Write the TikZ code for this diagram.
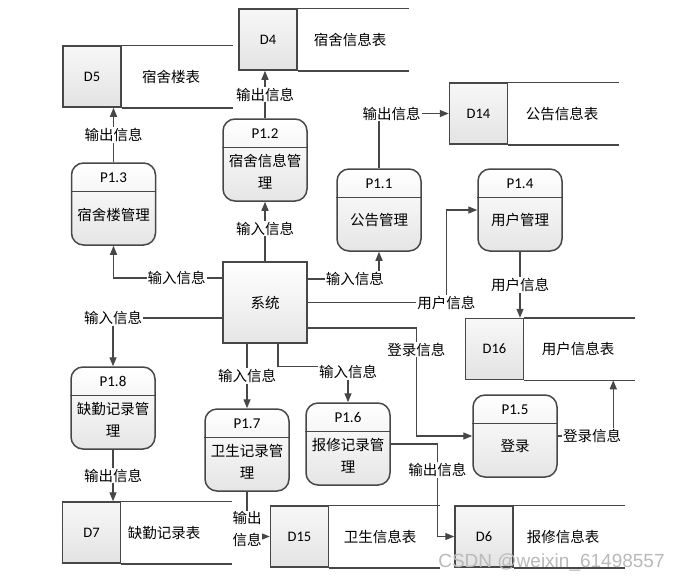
\documentclass[tikz,border=0pt]{standalone}
\usepackage{fontspec}
\setmainfont{Noto Sans CJK SC}
\newfontfamily\idfont{Carlito}
\newfontfamily\wmfont{Liberation Sans}
\usetikzlibrary{arrows.meta}

\definecolor{linegray}{HTML}{474747}

\begin{document}
\begin{tikzpicture}[x=1pt,y=-1pt]
\tikzstyle{every node}=[font=\fontsize{14.5}{22}\selectfont, inner sep=1pt];
\tikzstyle{proc}=[draw=linegray, line width=1.5pt, rounded corners=12pt, minimum width=84pt, minimum height=82pt, top color=white, bottom color=gray!20];
\tikzstyle{sysbox}=[draw=linegray, line width=1.5pt, minimum width=84pt, minimum height=81pt, top color=white, bottom color=gray!20];
\tikzstyle{store}=[draw=linegray, line width=1.5pt, minimum width=58pt, minimum height=61pt, top color=gray!6, bottom color=gray!22, font=\idfont\fontsize{14.5}{17}\selectfont];
\tikzstyle{sline}=[draw=linegray, line width=1.5pt];
\tikzstyle{pid}=[font=\idfont\fontsize{15}{17}\selectfont];
\tikzstyle{ptxt}=[align=center];
\tikzstyle{flow}=[draw=linegray, line width=1.4pt, -{Triangle[length=9pt,width=7pt]}];
\tikzstyle{lab}=[fill=white];
\useasboundingbox (0,0) rectangle (682,579);

\node[sysbox] (sys) at (265,302.5) {系统};

\node[proc] (p13) at (113.5,204) {};
\node[pid] (p13id) at ([yshift=-15.5pt]p13.north) {P1.3};
\draw[sline] ([yshift=-29pt]p13.north west) -- ([yshift=-29pt]p13.north east);
\node[ptxt] (p13txt) at ([yshift=-53pt]p13.north) {宿舍楼管理};

\node[proc] (p12) at (265,160) {};
\node[pid] (p12id) at ([yshift=-15.5pt]p12.north) {P1.2};
\draw[sline] ([yshift=-29pt]p12.north west) -- ([yshift=-29pt]p12.north east);
\node[ptxt] (p12txt) at ([yshift=-53pt]p12.north) {宿舍信息管\\理};

\node[proc] (p11) at (379,210) {};
\node[pid] (p11id) at ([yshift=-15.5pt]p11.north) {P1.1};
\draw[sline] ([yshift=-29pt]p11.north west) -- ([yshift=-29pt]p11.north east);
\node[ptxt] (p11txt) at ([yshift=-52pt]p11.north) {公告管理};

\node[proc] (p14) at (520,210) {};
\node[pid] (p14id) at ([yshift=-15.5pt]p14.north) {P1.4};
\draw[sline] ([yshift=-29pt]p14.north west) -- ([yshift=-29pt]p14.north east);
\node[ptxt] (p14txt) at ([yshift=-52pt]p14.north) {用户管理};

\node[proc] (p18) at (113,408) {};
\node[pid] (p18id) at ([yshift=-15.5pt]p18.north) {P1.8};
\draw[sline] ([yshift=-29pt]p18.north west) -- ([yshift=-29pt]p18.north east);
\node[ptxt] (p18txt) at ([yshift=-53pt]p18.north) {缺勤记录管\\理};

\node[proc] (p17) at (247,450) {};
\node[pid] (p17id) at ([yshift=-15.5pt]p17.north) {P1.7};
\draw[sline] ([yshift=-29pt]p17.north west) -- ([yshift=-29pt]p17.north east);
\node[ptxt] (p17txt) at ([yshift=-53pt]p17.north) {卫生记录管\\理};

\node[proc] (p16) at (348,444) {};
\node[pid] (p16id) at ([yshift=-15.5pt]p16.north) {P1.6};
\draw[sline] ([yshift=-29pt]p16.north west) -- ([yshift=-29pt]p16.north east);
\node[ptxt] (p16txt) at ([yshift=-53pt]p16.north) {报修记录管\\理};

\node[proc] (p15) at (515,436) {};
\node[pid] (p15id) at ([yshift=-15.5pt]p15.north) {P1.5};
\draw[sline] ([yshift=-29pt]p15.north west) -- ([yshift=-29pt]p15.north east);
\node[ptxt] (p15txt) at ([yshift=-52pt]p15.north) {登录};

\node[store] (d5) at (92,76.5) {D5};
\draw[sline] (d5.north east) -- +(111,0) (d5.south east) -- +(111,0);
\node (d5txt) at (171,76.5) {宿舍楼表};

\node[store] (d4) at (268,39.5) {D4};
\draw[sline] (d4.north east) -- +(111,0) (d4.south east) -- +(111,0);
\node (d4txt) at (350,39.5) {宿舍信息表};

\node[store] (d14) at (478.5,113.5) {D14};
\draw[sline] (d14.north east) -- +(111,0) (d14.south east) -- +(111,0);
\node (d14txt) at (562,113.5) {公告信息表};

\node[store] (d16) at (494.5,349) {D16};
\draw[sline] (d16.north east) -- +(111,0) (d16.south east) -- +(111,0);
\node (d16txt) at (578,349) {用户信息表};

\node[store] (d7) at (91.5,532.5) {D7};
\draw[sline] (d7.north east) -- +(111,0) (d7.south east) -- +(111,0);
\node (d7txt) at (164,532.5) {缺勤记录表};

\node[store] (d15) at (299.5,536.5) {D15};
\draw[sline] (d15.north east) -- +(111,0) (d15.south east) -- +(111,0);
\node (d15txt) at (380,536.5) {卫生信息表};

\node[store] (d6) at (484,536.5) {D6};
\draw[sline] (d6.north east) -- +(111,0) (d6.south east) -- +(111,0);
\node (d6txt) at (563,536.5) {报修信息表};

\draw[flow] (sys.north) -- node[lab,pos=0.55]{输入信息} (p12.south);
\draw[flow] (p12.north) -- node[lab]{输出信息} (p12.north |- d4.south);
\draw[flow] (p13.north) -- node[lab]{输出信息} (p13.north |- d5.south);
\draw[flow] ([yshift=24.5pt]sys.west) -| node[lab,pos=0.21]{输入信息} (p13.south);
\draw[flow] ([yshift=23.5pt]sys.east) -| node[lab,pos=0.33]{输入信息} (p11.south);
\draw[flow] (p11.north) |- node[lab,pos=0.59]{输出信息} (d14.west);
\draw[flow] (sys.east) -| node[lab]{用户信息} ([xshift=-31pt]p14.west) -- (p14.west);
\draw[flow] (p14.south) -- node[lab]{用户信息} (p14.south |- d16.north);
\draw[flow] ([yshift=-25.5pt]sys.east) -| node[lab,pos=0.6]{登录信息} ([xshift=-56pt]p15.west) -- (p15.west);
\draw[flow] (p15.east) -| node[lab,pos=0.31]{登录信息} ([xshift=89pt]d16.south east);
\draw[flow] ([yshift=-15.5pt]sys.west) -| node[lab]{输入信息} (p18.north);
\draw[flow] (p18.south) -- node[lab]{输出信息} (p18.south |- d7.north);
\draw[flow] (sys.south -| p17.north) -- node[lab]{输入信息} (p17.north);
\draw[flow] ([xshift=13pt]sys.south) -- ++(0,23) -| node[lab,yshift=-5pt]{输入信息} (p16.north);
\draw[flow] (p17.south) |- node[lab,align=center,inner sep=0pt,yshift=8pt]{输出\\信息} (d15.west);
\draw[flow] (p16.east) -| node[lab,pos=0.64]{输出信息} ([xshift=-17pt]d6.west) -- (d6.west);

\node[font=\wmfont\fontsize{19}{19}\selectfont, text=gray!55, anchor=base] (wm) at (551.5,567) {CSDN @weixin\_61498557};
\end{tikzpicture}
\end{document}
